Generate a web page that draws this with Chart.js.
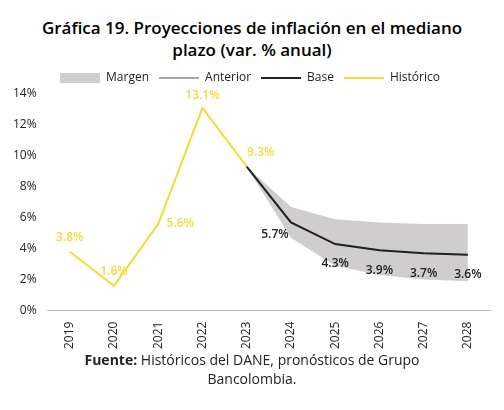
<!DOCTYPE html>
<html>
<head>
<meta charset="utf-8">
<script src="https://cdn.jsdelivr.net/npm/chart.js@4"></script>
<style>
  body { margin: 0; background: #fff; font-family: "Open Sans", sans-serif; }
  #wrap { width: 504px; height: 410px; position: relative; }
  h1 { margin: 0; padding-top: 17px; font-size: 17px; font-weight: 600; text-align: center; line-height: 22px; color: #000; }
  #box { position: absolute; left: 0; top: 62px; width: 500px; height: 290px; }
  #src { position: absolute; top: 350px; width: 504px; text-align: center; font-size: 14px; line-height: 19px; color: #222; }
</style>
</head>
<body>
<div id="wrap">
  <h1>Gráfica 19. Proyecciones de inflación en el mediano<br>plazo (var. % anual)</h1>
  <div id="box"><canvas id="c"></canvas></div>
  <div id="src"><b>Fuente:</b> Históricos del DANE, pronósticos de Grupo<br>Bancolombia.</div>
</div>
<script>
const years = ["2019", "2020", "2021", "2022", "2023", "2024", "2025", "2026", "2027", "2028"];
const historico = [3.8, 1.6, 5.6, 13.1, 9.3, null, null, null, null, null];
const base = [null, null, null, null, 9.3, 5.7, 4.3, 3.9, 3.7, 3.6];
const anterior = [null, null, null, null, 9.3, 5.7, 4.3, 3.9, 3.7, 3.6];
const margenAlto = [null, null, null, null, 9.3, 6.7, 5.9, 5.7, 5.6, 5.6];
const margenBajo = [null, null, null, null, 9.3, 4.7, 2.9, 2.3, 2.0, 1.9];

const labelPlugin = {
  id: "labels",
  afterDatasetsDraw(chart) {
    const ctx = chart.ctx;
    ctx.save();
    ctx.font = "600 12px 'Open Sans'";
    ctx.textAlign = "center";
    const h = chart.getDatasetMeta(4).data;
    const offs = [[0, -14], [0, -14], [22, 0], [0, -12], [14, -14]];
    historico.forEach((v, i) => {
      if (v == null) return;
      ctx.fillStyle = "#f2dc3b";
      ctx.fillText(v.toFixed(1) + "%", h[i].x + offs[i][0], h[i].y + offs[i][1]);
    });
    const b = chart.getDatasetMeta(3).data;
    base.forEach((v, i) => {
      if (v == null || i < 5) return;
      ctx.fillStyle = "#222";
      const dx = i === 5 ? -16 : 0;
      ctx.fillText(v.toFixed(1) + "%", b[i].x + dx, b[i].y + (i === 5 ? 12 : 20));
    });
    ctx.restore();
  }
};

new Chart(document.getElementById("c"), {
  type: "line",
  data: {
    labels: years,
    datasets: [
      { label: "Margen", data: margenAlto, borderWidth: 0, pointRadius: 0, backgroundColor: "#cfcdcd", fill: "+1", order: 5, pointStyle: "rect" },
      { label: "margenBajo", data: margenBajo, borderWidth: 0, pointRadius: 0, fill: false, order: 5 },
      { label: "Anterior", data: anterior, borderColor: "#888", borderDash: [2, 2], borderWidth: 1.5, pointRadius: 0, fill: false, order: 4, pointStyle: "line" },
      { label: "Base", data: base, borderColor: "#222", borderWidth: 2, pointRadius: 0, fill: false, order: 2, pointStyle: "line" },
      { label: "Histórico", data: historico, borderColor: "#f2dc3b", borderWidth: 2, pointRadius: 0, fill: false, order: 1, pointStyle: "line" }
    ]
  },
  options: {
    responsive: true,
    maintainAspectRatio: false,
    animation: false,
    layout: { padding: { left: 10, right: 10 } },
    plugins: {
      legend: {
        reverse: true,
        labels: {
          font: { family: "Open Sans", size: 12 }, color: "#222",
          usePointStyle: true, pointStyleWidth: 40, boxHeight: 10,
          filter: (item) => item.text !== "margenBajo",
          generateLabels(chart) {
            const items = Chart.defaults.plugins.legend.labels.generateLabels(chart);
            items.forEach(it => {
              if (it.text === "Margen") { it.fillStyle = "#cfcdcd"; it.strokeStyle = "#cfcdcd"; it.lineWidth = 0; }
            });
            return items;
          }
        }
      },
      tooltip: { enabled: false }
    },
    scales: {
      x: {
        offset: true,
        grid: { display: false },
        border: { color: "#bbb" },
        ticks: { maxRotation: 90, minRotation: 90, font: { family: "Open Sans", size: 12 }, color: "#222" }
      },
      y: {
        min: 0, max: 14,
        ticks: { stepSize: 2, callback: v => v + "%", font: { family: "Open Sans", size: 12 }, color: "#222" },
        grid: { display: false },
        border: { display: false }
      }
    }
  },
  plugins: [labelPlugin]
});
</script>
</body>
</html>
